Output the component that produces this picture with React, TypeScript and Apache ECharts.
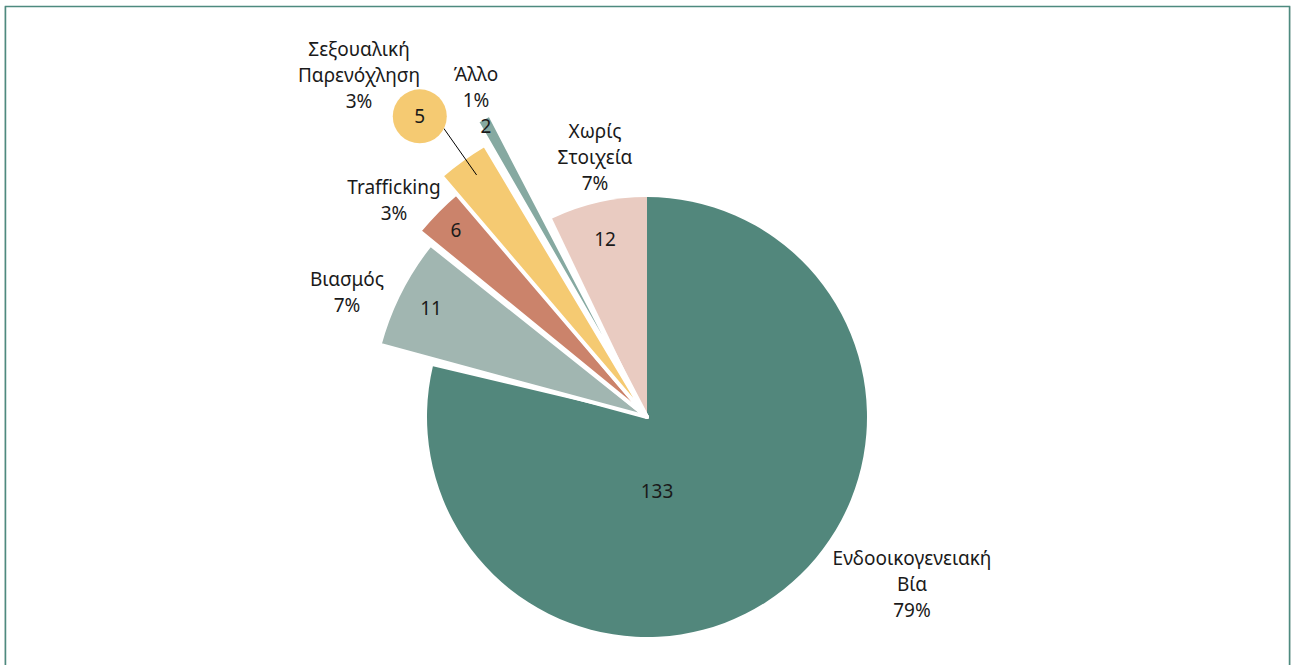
import React, { useEffect, useRef } from "react";
import * as echarts from "echarts";

// ---- data ----
const CATEGORIES = [
  "Ενδοοικογενειακή\nΒία",
  "Βιασμός",
  "Trafficking",
  "Σεξουαλική\nΠαρενόχληση",
  "Άλλο",
  "Χωρίς\nΣτοιχεία",
];
const VALUES = [133, 11, 6, 5, 2, 12];
const PERCENT_LABELS = ["79%", "7%", "3%", "3%", "1%", "7%"];

// ---- style ----
const COLORS = ["#52877C", "#A1B6B1", "#CB836B", "#F5CA72", "#86A9A1", "#E9CBC1"];
const OUTER_RADIUS = [220, 277, 294, 317, 341, 220];
const BORDER_WIDTH = [0, 4, 4, 4, 4, 0];
const ROTATE_CW = [0, 1.8, 1.4, -0.5, -1.0, 0]; // degrees, slight offset of exploded slices
const PAD_ANGLE = [0, 0, 2.2, 1.0, 1.8, 0];
const CALLOUT_INDEX = 3; // the value shown in a circle with a leader line
const CENTER: [number, number] = [647, 417];
const VALUE_LABEL_POS: [number, number][] = [
  [657, 491],
  [431, 308],
  [456, 230],
  [420, 116],
  [486, 126],
  [605, 239],
];
const NAME_LABEL_POS: [number, number][] = [
  [912, 584],
  [347, 292],
  [394, 200],
  [359, 75],
  [476, 87],
  [595, 157],
];
const FONT = "'Noto Sans', 'Open Sans', sans-serif";
const FONT_SIZE = 19;
const TEXT_COLOR = "#1a1a1a";

export default function App() {
  const ref = useRef<HTMLDivElement>(null);
  useEffect(() => {
    if (!ref.current) return;
    const chart = echarts.init(ref.current, undefined, { renderer: "svg" });

    // one pie per slice group (same radius/offset); other items stay transparent
    const groups: number[][] = [];
    OUTER_RADIUS.forEach((r, i) => {
      const g = groups.find(
        (gr) =>
          OUTER_RADIUS[gr[0]] === r &&
          ROTATE_CW[gr[0]] === ROTATE_CW[i] &&
          PAD_ANGLE[gr[0]] === PAD_ANGLE[i]
      );
      if (g) g.push(i);
      else groups.push([i]);
    });

    const sliceSeries = groups.map((members) => {
      const lead = members[0];
      return {
        type: "pie",
        center: CENTER,
        radius: [0, OUTER_RADIUS[lead]],
        startAngle: 90 - ROTATE_CW[lead],
        padAngle: PAD_ANGLE[lead],
        clockwise: true,
        silent: true,
        avoidLabelOverlap: false,
        label: {
          show: true,
          formatter: "{c}",
          fontFamily: FONT,
          fontSize: FONT_SIZE,
          color: TEXT_COLOR,
        },
        labelLine: { show: false },
        labelLayout: (p: any) => ({
          x: VALUE_LABEL_POS[p.dataIndex][0],
          y: VALUE_LABEL_POS[p.dataIndex][1],
          align: "center",
          verticalAlign: "middle",
        }),
        data: VALUES.map((v, i) => {
          const mine = members.includes(i);
          return {
            name: CATEGORIES[i],
            value: v,
            itemStyle: mine
              ? { color: COLORS[i], borderColor: "#ffffff", borderWidth: BORDER_WIDTH[i] }
              : { color: "transparent", borderWidth: 0 },
            label: { show: mine && i !== CALLOUT_INDEX },
          };
        }),
      };
    });

    // callout value label (circle + leader line) for the small slice
    const calloutSeries = {
      type: "pie",
      center: CENTER,
      radius: [0, 296],
      startAngle: 90,
      clockwise: true,
      silent: true,
      avoidLabelOverlap: false,
      z: 4,
      itemStyle: { color: "transparent", borderWidth: 0 },
      label: { show: false },
      labelLine: { show: false },
      data: VALUES.map((v, i) => ({
        name: CATEGORIES[i],
        value: v,
        label:
          i === CALLOUT_INDEX
            ? {
                show: true,
                position: "outside",
                distanceToLabelLine: -3,
                formatter: "{c|{c}}\n{e| }",
                rich: {
                  c: {
                    width: 54,
                    height: 54,
                    lineHeight: 54,
                    borderRadius: 27,
                    backgroundColor: COLORS[CALLOUT_INDEX],
                    align: "center",
                    fontFamily: FONT,
                    fontSize: FONT_SIZE,
                    color: TEXT_COLOR,
                  },
                  e: { height: 24, lineHeight: 24, fontSize: 2 },
                },
              }
            : { show: false },
        labelLine:
          i === CALLOUT_INDEX
            ? { show: true, length: 57, length2: 0, smooth: false, lineStyle: { color: "#000000", width: 1 } }
            : { show: false },
      })),
    };

    const nameSeries = {
      type: "pie",
      center: CENTER,
      radius: [0, 220],
      startAngle: 90,
      clockwise: true,
      silent: true,
      avoidLabelOverlap: false,
      z: 5,
      itemStyle: { color: "transparent", borderWidth: 0 },
      label: {
        show: true,
        formatter: (p: any) => `${p.name}\n${PERCENT_LABELS[p.dataIndex]}`,
        fontFamily: FONT,
        fontSize: FONT_SIZE,
        lineHeight: 26,
        align: "center",
        color: TEXT_COLOR,
      },
      labelLine: { show: false },
      labelLayout: (p: any) => ({
        x: NAME_LABEL_POS[p.dataIndex][0],
        y: NAME_LABEL_POS[p.dataIndex][1],
        align: "center",
        verticalAlign: "middle",
      }),
      data: VALUES.map((v, i) => ({ name: CATEGORIES[i], value: v })),
    };

    chart.setOption({
      animation: false,
      backgroundColor: "#ffffff",
      graphic: [
        {
          type: "rect",
          shape: { x: 4.5, y: 6.5, width: 1286, height: 700 },
          style: { fill: "none", stroke: "#d5dcda", lineWidth: 1 },
          silent: true,
        },
        {
          type: "rect",
          shape: { x: 5.5, y: 6.5, width: 1284, height: 700 },
          style: { fill: "none", stroke: "#4E8A7F", lineWidth: 1.5 },
          silent: true,
        },
      ],
      series: [...sliceSeries, calloutSeries, nameSeries],
    });
    return () => chart.dispose();
  }, []);
  return (
    <div
      ref={ref}
      style={{ position: "absolute", left: 0, top: 0, width: 1292, height: 665 }}
    />
  );
}
